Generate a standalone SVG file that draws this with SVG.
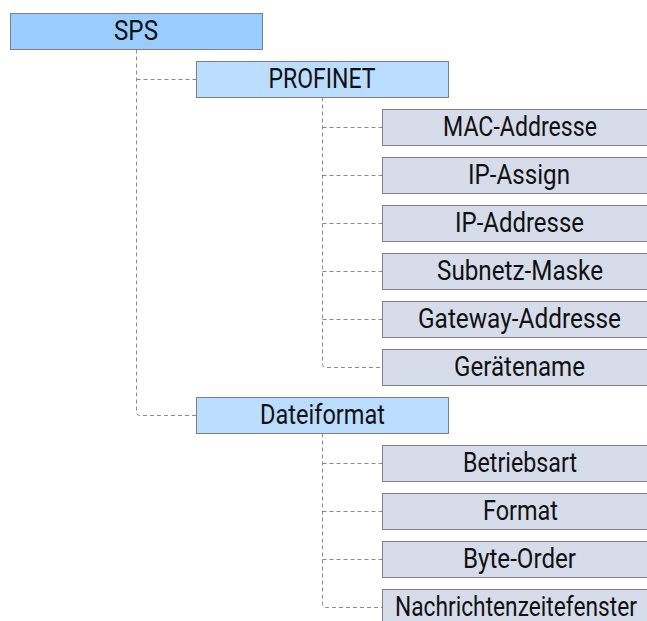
<svg xmlns="http://www.w3.org/2000/svg" width="647" height="621" viewBox="0 0 647 621">
<style>
.box{stroke:#7f7f7f;stroke-width:1}
.l0{fill:#99ccff}
.l1{fill:#bbddff}
.l2{fill:#d6dcea}
.t{font-family:"Roboto","Liberation Sans",sans-serif;font-size:27.5px;fill:#111;text-anchor:middle}
.c{fill:none;stroke:#8a8a8a;stroke-width:1;stroke-dasharray:4 3}
</style>
<rect width="647" height="621" fill="#ffffff"/>
<g id="connectors">
<path class="c" d="M136.5 49.5 V412 Q136.5 415.5 140 415.5 H196"/>
<path class="c" d="M136.5 79.5 H196"/>
<path class="c" d="M322.5 97.5 V364 Q322.5 367.5 326 367.5 H382"/>
<path class="c" d="M322.5 127.5 H382 M322.5 175.5 H382 M322.5 223.5 H382 M322.5 271.5 H382 M322.5 319.5 H382"/>
<path class="c" d="M322.5 433.5 V604 Q322.5 607.5 326 607.5 H382"/>
<path class="c" d="M322.5 463.5 H382 M322.5 511.5 H382 M322.5 559.5 H382"/>
</g>
<g id="sps"><rect class="box l0" x="10.5" y="13.5" width="252" height="36"/><text class="t" x="136" y="40" textLength="44" lengthAdjust="spacingAndGlyphs">SPS</text></g>
<g id="profinet"><rect class="box l1" x="196.5" y="61.5" width="252" height="36"/><text class="t" x="322" y="88" textLength="107" lengthAdjust="spacingAndGlyphs">PROFINET</text></g>
<g id="mac"><rect class="box l2" x="382.5" y="109.5" width="280" height="36"/><text class="t" x="520" y="136" textLength="154" lengthAdjust="spacingAndGlyphs">MAC-Addresse</text></g>
<g id="ipassign"><rect class="box l2" x="382.5" y="157.5" width="280" height="36"/><text class="t" x="519" y="184" textLength="102" lengthAdjust="spacingAndGlyphs">IP-Assign</text></g>
<g id="ipaddr"><rect class="box l2" x="382.5" y="205.5" width="280" height="36"/><text class="t" x="519.5" y="232" textLength="129" lengthAdjust="spacingAndGlyphs">IP-Addresse</text></g>
<g id="subnetz"><rect class="box l2" x="382.5" y="253.5" width="280" height="36"/><text class="t" x="520" y="280" textLength="166" lengthAdjust="spacingAndGlyphs">Subnetz-Maske</text></g>
<g id="gateway"><rect class="box l2" x="382.5" y="301.5" width="280" height="36"/><text class="t" x="519.5" y="328" textLength="203" lengthAdjust="spacingAndGlyphs">Gateway-Addresse</text></g>
<g id="geraetename"><rect class="box l2" x="382.5" y="349.5" width="280" height="36"/><text class="t" x="519.5" y="376" textLength="131" lengthAdjust="spacingAndGlyphs">Gerätename</text></g>
<g id="dateiformat"><rect class="box l1" x="196.5" y="397.5" width="252" height="36"/><text class="t" x="322.5" y="424" textLength="125" lengthAdjust="spacingAndGlyphs">Dateiformat</text></g>
<g id="betriebsart"><rect class="box l2" x="382.5" y="445.5" width="280" height="36"/><text class="t" x="520" y="472" textLength="114" lengthAdjust="spacingAndGlyphs">Betriebsart</text></g>
<g id="format"><rect class="box l2" x="382.5" y="493.5" width="280" height="36"/><text class="t" x="520.5" y="520" textLength="75" lengthAdjust="spacingAndGlyphs">Format</text></g>
<g id="byteorder"><rect class="box l2" x="382.5" y="541.5" width="280" height="36"/><text class="t" x="519.5" y="568" textLength="113" lengthAdjust="spacingAndGlyphs">Byte-Order</text></g>
<g id="nachrichten"><rect class="box l2" x="382.5" y="589.5" width="280" height="36"/><text class="t" x="516" y="616" textLength="242" lengthAdjust="spacingAndGlyphs">Nachrichtenzeitefenster</text></g>
</svg>
